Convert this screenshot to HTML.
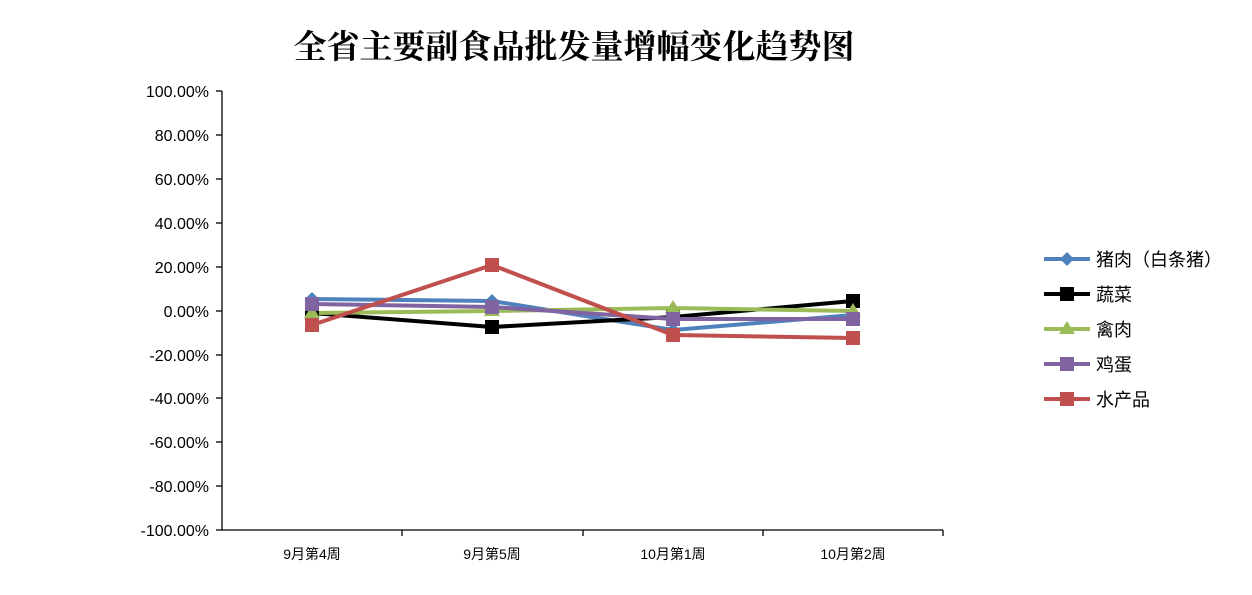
<!DOCTYPE html>
<html><head><meta charset="utf-8"><style>
body{margin:0;background:#fff;}
svg text{font-family:"Liberation Sans","Noto Sans CJK SC",sans-serif;}
</style></head><body>
<svg width="1252" height="590" xmlns="http://www.w3.org/2000/svg">
<rect width="1252" height="590" fill="#fff"/>
<text x="574" y="58" font-size="33" font-weight="bold" text-anchor="middle" style="font-family:'Noto Serif CJK SC',serif">全省主要副食品批发量增幅变化趋势图</text>
<g stroke="#000" stroke-width="1.3">
<line x1="222" y1="91" x2="222" y2="530"/>
<line x1="222" y1="530" x2="943" y2="530"/>
<line x1="216" y1="91" x2="222" y2="91"/><line x1="216" y1="135" x2="222" y2="135"/><line x1="216" y1="179" x2="222" y2="179"/><line x1="216" y1="223" x2="222" y2="223"/><line x1="216" y1="267" x2="222" y2="267"/><line x1="216" y1="311" x2="222" y2="311"/><line x1="216" y1="355" x2="222" y2="355"/><line x1="216" y1="398" x2="222" y2="398"/><line x1="216" y1="442" x2="222" y2="442"/><line x1="216" y1="486" x2="222" y2="486"/><line x1="216" y1="530" x2="222" y2="530"/>
<line x1="402" y1="530" x2="402" y2="536"/><line x1="583" y1="530" x2="583" y2="536"/><line x1="763" y1="530" x2="763" y2="536"/><line x1="943" y1="530" x2="943" y2="536"/>
</g>
<g font-size="16" text-anchor="end">
<text x="209" y="97">100.00%</text><text x="209" y="141">80.00%</text><text x="209" y="185">60.00%</text><text x="209" y="229">40.00%</text><text x="209" y="273">20.00%</text><text x="209" y="317">0.00%</text><text x="209" y="361">-20.00%</text><text x="209" y="404">-40.00%</text><text x="209" y="448">-60.00%</text><text x="209" y="492">-80.00%</text><text x="209" y="536">-100.00%</text>
</g>
<g font-size="14" text-anchor="middle">
<text x="312" y="559">9月第4周</text><text x="492" y="559">9月第5周</text><text x="673" y="559">10月第1周</text><text x="853" y="559">10月第2周</text>
</g>
<g fill="none" stroke-width="4" stroke-linejoin="round">
<polyline stroke="#4f81bd" points="312,299 492,301 673,330 853,315"/>
<polyline stroke="#000" points="312,313 492,327 673,317 853,301"/>
<polyline stroke="#9bbb59" points="312,313 492,311 673,308 853,311"/>
<polyline stroke="#8064a2" points="312,304 492,307 673,319 853,319"/>
<polyline stroke="#c0504d" points="312,325 492,265 673,335 853,338"/>
</g>
<g fill="#4f81bd"><path d="M312,292l7,7-7,7-7-7z"/><path d="M492,294l7,7-7,7-7-7z"/><path d="M673,323l7,7-7,7-7-7z"/><path d="M853,308l7,7-7,7-7-7z"/></g>
<g fill="#000"><rect x="305" y="306" width="14" height="14"/><rect x="485" y="320" width="14" height="14"/><rect x="666" y="310" width="14" height="14"/><rect x="846" y="294" width="14" height="14"/></g>
<g fill="#9bbb59"><path d="M312,305l8,13h-16z"/><path d="M492,303l8,13h-16z"/><path d="M673,300l8,13h-16z"/><path d="M853,303l8,13h-16z"/></g>
<g fill="#8064a2"><rect x="305" y="297" width="14" height="14"/><rect x="485" y="300" width="14" height="14"/><rect x="666" y="312" width="14" height="14"/><rect x="846" y="312" width="14" height="14"/></g>
<g fill="#c0504d"><rect x="305" y="318" width="14" height="14"/><rect x="485" y="258" width="14" height="14"/><rect x="666" y="328" width="14" height="14"/><rect x="846" y="331" width="14" height="14"/></g>
<g stroke-width="4">
<line x1="1044" y1="259" x2="1090" y2="259" stroke="#4f81bd"/>
<line x1="1044" y1="294" x2="1090" y2="294" stroke="#000"/>
<line x1="1044" y1="329" x2="1090" y2="329" stroke="#9bbb59"/>
<line x1="1044" y1="364" x2="1090" y2="364" stroke="#8064a2"/>
<line x1="1044" y1="399" x2="1090" y2="399" stroke="#c0504d"/>
</g>
<path d="M1067,252l7,7-7,7-7-7z" fill="#4f81bd"/>
<rect x="1060" y="287" width="14" height="14" fill="#000"/>
<path d="M1067,321l8,13h-16z" fill="#9bbb59"/>
<rect x="1060" y="357" width="14" height="14" fill="#8064a2"/>
<rect x="1060" y="392" width="14" height="14" fill="#c0504d"/>
<g font-size="18">
<text x="1096" y="266">猪肉（白条猪）</text><text x="1096" y="301">蔬菜</text><text x="1096" y="336">禽肉</text><text x="1096" y="371">鸡蛋</text><text x="1096" y="406">水产品</text>
</g>
</svg>
</body></html>
